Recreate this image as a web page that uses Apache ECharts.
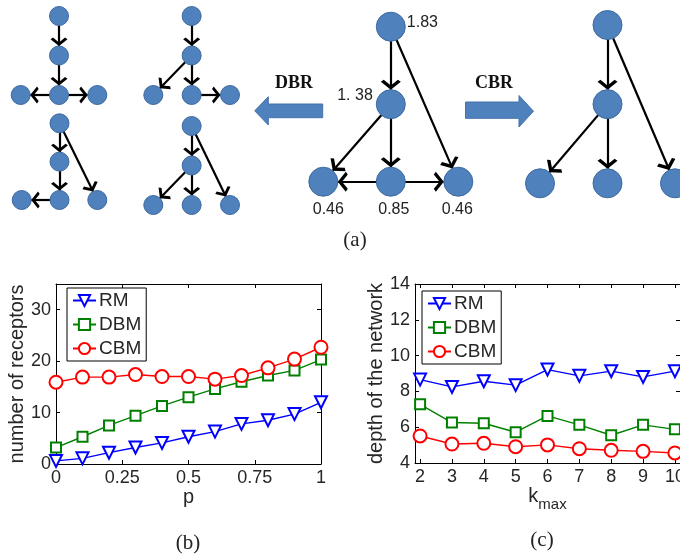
<!DOCTYPE html>
<html><head><meta charset="utf-8">
<script src="https://cdn.jsdelivr.net/npm/echarts@6/dist/echarts.min.js"></script>
<style>html,body{margin:0;padding:0;background:#fff}#c{width:680px;height:557px}</style>
</head><body><div id="c"></div>
<script>
// ---------- panel (b): number of receptors vs p ----------
const pValues      = [0, 0.1, 0.2, 0.3, 0.4, 0.5, 0.6, 0.7, 0.8, 0.9, 1];
const rmReceptors  = [0.6, 1.1, 2.2, 3.2, 4.1, 5.3, 6.3, 7.8, 8.5, 9.7, 12.0];
const dbmReceptors = [3.2, 5.3, 7.5, 9.4, 11.3, 13.0, 14.6, 16.0, 17.2, 18.2, 20.3];
const cbmReceptors = [15.9, 16.9, 16.9, 17.4, 17.0, 17.0, 16.5, 17.2, 18.7, 20.4, 22.7];
const pTicks        = [0, 0.25, 0.5, 0.75, 1];
const receptorTicks = [0, 10, 20, 30];

// ---------- panel (c): depth of the network vs k_max ----------
const kmaxValues = [2, 3, 4, 5, 6, 7, 8, 9, 10];
const rmDepth    = [8.66, 8.25, 8.57, 8.35, 9.22, 8.87, 9.13, 8.81, 9.13];
const dbmDepth   = [7.28, 6.26, 6.22, 5.72, 6.63, 6.13, 5.55, 6.13, 5.88];
const cbmDepth   = [5.51, 5.06, 5.10, 4.91, 5.01, 4.80, 4.71, 4.65, 4.56];
const kmaxTicks  = [2, 3, 4, 5, 6, 7, 8, 9, 10];
const depthTicks = [4, 6, 8, 10, 12, 14];

// ---------- panel (a): networks; node = [column, level], order: top, middle, left, centre, right ----------
const treeNodes   = [[0, 0], [0, 1], [-1, 2], [0, 2], [1, 2]];
const linksDbr1   = [[0, 1], [1, 3], [3, 2], [3, 4]];
const linksDbr2   = [[0, 1], [1, 2], [1, 3], [3, 4]];
const linksDbr3   = [[0, 1], [1, 3], [0, 4], [3, 2]];
const linksDbr4   = [[0, 1], [1, 2], [1, 3], [0, 4]];
const linksOrig   = [[0, 1], [0, 4], [1, 2], [1, 3], [3, 2], [3, 4]];
const linksCbr    = [[0, 1], [0, 4], [1, 2], [1, 3]];
const origLabels  = ['1.83', '1. 38', '0.46', '0.85', '0.46'];

// ---------- layout / style ----------
const SANS = 'Liberation Sans';
const SERIF = 'Liberation Serif';
const TXT = '#262626';
const NODE_FILL = '#4f81bd';
const NODE_EDGE = '#3d6aa0';
const CHEVRON = 'path://M0,0L6.5,7.5L4.6,9.4L0,4L-4.6,9.4L-6.5,7.5ZM0,-9.4L0.01,-9.4L0,-9.4Z';

const netBoxes = [
  {left: 20.7, top: 16, width: 76.6, height: 79},
  {left: 153.3, top: 16, width: 76.7, height: 79},
  {left: 21.7, top: 123.3, width: 75.6, height: 76.7},
  {left: 153.3, top: 126, width: 76.7, height: 79},
  {left: 323.3, top: 26.7, width: 135, height: 155},
  {left: 540, top: 25, width: 135, height: 158.3}
];
const netLinks = [linksDbr1, linksDbr2, linksDbr3, linksDbr4, linksOrig, linksCbr];
const netNodeSize = [19, 19, 19, 19, 29, 29];
const netEdgeWidth = [2.2, 2.2, 2.2, 2.2, 2.2, 2.2];
const netArrow = [[11, 17], [11, 17], [11, 17], [11, 17], [13, 20], [13, 20]];
const labelStyles = [
  {position: 'right', distance: 1, offset: [0, -4]},
  {position: 'left', distance: 3, offset: [0, -9]},
  {position: 'bottom', distance: 5, offset: [5, 0]},
  {position: 'bottom', distance: 5, offset: [3, 0]},
  {position: 'bottom', distance: 5, offset: [-1, 0]}
];

const grids = netBoxes.map(b => Object.assign({outerBoundsMode: 'none', containLabel: false}, b));
grids.push({left: 56, top: 284, width: 265, height: 180, outerBoundsMode: 'none', containLabel: false});
grids.push({left: 415, top: 284, width: 265, height: 179, outerBoundsMode: 'none', containLabel: false});

const xAxes = [], yAxes = [];
netBoxes.forEach((b, i) => {
  xAxes.push({gridIndex: i, type: 'value', min: -1, max: 1, show: false});
  yAxes.push({gridIndex: i, type: 'value', min: 0, max: 2, inverse: true, show: false});
});

function frameAxis(gridIndex, position, min, max, ticks, withLabels, name, nameGap, extra) {
  return Object.assign({
    gridIndex, type: 'value', position, min, max,
    axisLine: {show: true, onZero: false, lineStyle: {color: '#000', width: 1}},
    axisTick: {show: true, inside: true, length: 4, customValues: ticks, lineStyle: {color: '#000', width: 1}},
    axisLabel: {show: withLabels, customValues: ticks, fontSize: 18, fontFamily: SANS, color: TXT, margin: 5},
    splitLine: {show: false},
    name: name || '', nameLocation: 'middle', nameGap: nameGap || 0,
    nameTextStyle: {fontSize: 20, fontFamily: SANS, color: TXT}
  }, extra || {});
}

// panel (b)
xAxes.push(frameAxis(6, 'bottom', 0, 1, pTicks, true, 'p', 22));
xAxes.push(frameAxis(6, 'top', 0, 1, pTicks, false));
yAxes.push(frameAxis(6, 'left', 0, 35, receptorTicks, true, 'number of receptors', 24));
yAxes.push(frameAxis(6, 'right', 0, 35, receptorTicks, false));
// panel (c)
xAxes.push(frameAxis(7, 'bottom', 1.84, 10.16, kmaxTicks, true, '{k|k}{s|max}', 18, {
  nameTextStyle: {fontSize: 20, fontFamily: SANS, color: TXT,
    rich: {k: {fontSize: 20, fontFamily: SANS, color: TXT},
           s: {fontSize: 15, fontFamily: SANS, color: TXT, padding: [16, 0, 0, 0]}}}
}));
xAxes.push(frameAxis(7, 'top', 1.84, 10.16, kmaxTicks, false));
yAxes.push(frameAxis(7, 'left', 4, 14, depthTicks, true, 'depth of the network', 26));
yAxes.push(frameAxis(7, 'right', 4, 14, depthTicks, false));

const series = [];
netLinks.forEach((links, i) => {
  series.push({
    type: 'graph', layout: 'none', coordinateSystem: 'cartesian2d',
    xAxisIndex: i, yAxisIndex: i,
    symbol: 'circle', symbolSize: netNodeSize[i],
    itemStyle: {color: NODE_FILL, borderColor: NODE_EDGE, borderWidth: 1},
    edgeSymbol: ['none', CHEVRON], edgeSymbolSize: netArrow[i],
    lineStyle: {color: '#000', width: netEdgeWidth[i], opacity: 1, curveness: 0},
    label: {show: false},
    data: treeNodes.map((n, k) => {
      const item = {value: n.slice(), name: 'net' + i + '_node' + k};
      if (i === 4) {
        item.label = Object.assign({show: true, formatter: origLabels[k], fontSize: 16, fontFamily: SANS, color: '#222'}, labelStyles[k]);
      }
      return item;
    }),
    links: links.map(l => ({source: l[0], target: l[1]})),
    emphasis: {disabled: true}, silent: true
  });
});

function lineSeries(name, xs, ys, axisIdx, color, symbol, size, rotate) {
  return {
    type: 'line', name, xAxisIndex: axisIdx, yAxisIndex: axisIdx,
    data: xs.map((x, i) => [x, ys[i]]),
    symbol, symbolSize: size, symbolRotate: rotate || 0, showAllSymbol: true, clip: false,
    color, lineStyle: {color, width: 1.4}, itemStyle: {color, borderWidth: 1.3},
    emphasis: {disabled: true}, silent: true, z: 3
  };
}
series.push(lineSeries('RM', pValues, rmReceptors, 6, '#0000ff', 'emptyTriangle', 12, 180));
series.push(lineSeries('DBM', pValues, dbmReceptors, 6, '#008000', 'emptyRect', 10));
series.push(lineSeries('CBM', pValues, cbmReceptors, 6, '#ff0000', 'emptyCircle', 13));
series.push(lineSeries('RM', kmaxValues, rmDepth, 8, '#0000ff', 'emptyTriangle', 12, 180));
series.push(lineSeries('DBM', kmaxValues, dbmDepth, 8, '#008000', 'emptyRect', 10));
series.push(lineSeries('CBM', kmaxValues, cbmDepth, 8, '#ff0000', 'emptyCircle', 13));

function legendAt(left, top) {
  return {
    data: ['RM', 'DBM', 'CBM'], orient: 'vertical', left, top,
    selectedMode: false, borderColor: '#000', borderWidth: 1, backgroundColor: '#fff',
    padding: [3, 5, 3, 5], itemGap: 5, itemWidth: 23, itemHeight: 14,
    textStyle: {fontSize: 19, fontFamily: SANS, color: TXT, padding: [0, 0, 0, -2]}
  };
}

const option = {
  animation: false,
  backgroundColor: '#fff',
  grid: grids, xAxis: xAxes, yAxis: yAxes,
  legend: [legendAt(67, 288), legendAt(422, 291)],
  series,
  graphic: [
    {type: 'polygon', silent: true, shape: {points: [[254.7, 110.8], [268.3, 96.7], [268.3, 104], [322.7, 104], [322.7, 117.7], [268.3, 117.7], [268.3, 125]]},
     style: {fill: NODE_FILL, stroke: '#4573ab', lineWidth: 1}},
    {type: 'polygon', silent: true, shape: {points: [[533.5, 111.2], [519, 95.5], [519, 102], [465.5, 102], [465.5, 118.3], [519, 118.3], [519, 127]]},
     style: {fill: NODE_FILL, stroke: '#4573ab', lineWidth: 1}},
    {type: 'text', silent: true, x: 294, y: 83, style: {text: 'DBR', font: 'bold 18px "' + SERIF + '"', fill: '#111', textAlign: 'center', textVerticalAlign: 'middle'}},
    {type: 'text', silent: true, x: 494, y: 83, style: {text: 'CBR', font: 'bold 18px "' + SERIF + '"', fill: '#111', textAlign: 'center', textVerticalAlign: 'middle'}},
    {type: 'text', silent: true, x: 355, y: 240, style: {text: '(a)', font: '21px "' + SERIF + '"', fill: '#222', textAlign: 'center', textVerticalAlign: 'middle'}},
    {type: 'text', silent: true, x: 188, y: 543, style: {text: '(b)', font: '21px "' + SERIF + '"', fill: '#222', textAlign: 'center', textVerticalAlign: 'middle'}},
    {type: 'text', silent: true, x: 542, y: 540, style: {text: '(c)', font: '21px "' + SERIF + '"', fill: '#222', textAlign: 'center', textVerticalAlign: 'middle'}}
  ]
};

const chart = echarts.init(document.getElementById('c'));
chart.setOption(option);
</script>
</body></html>
